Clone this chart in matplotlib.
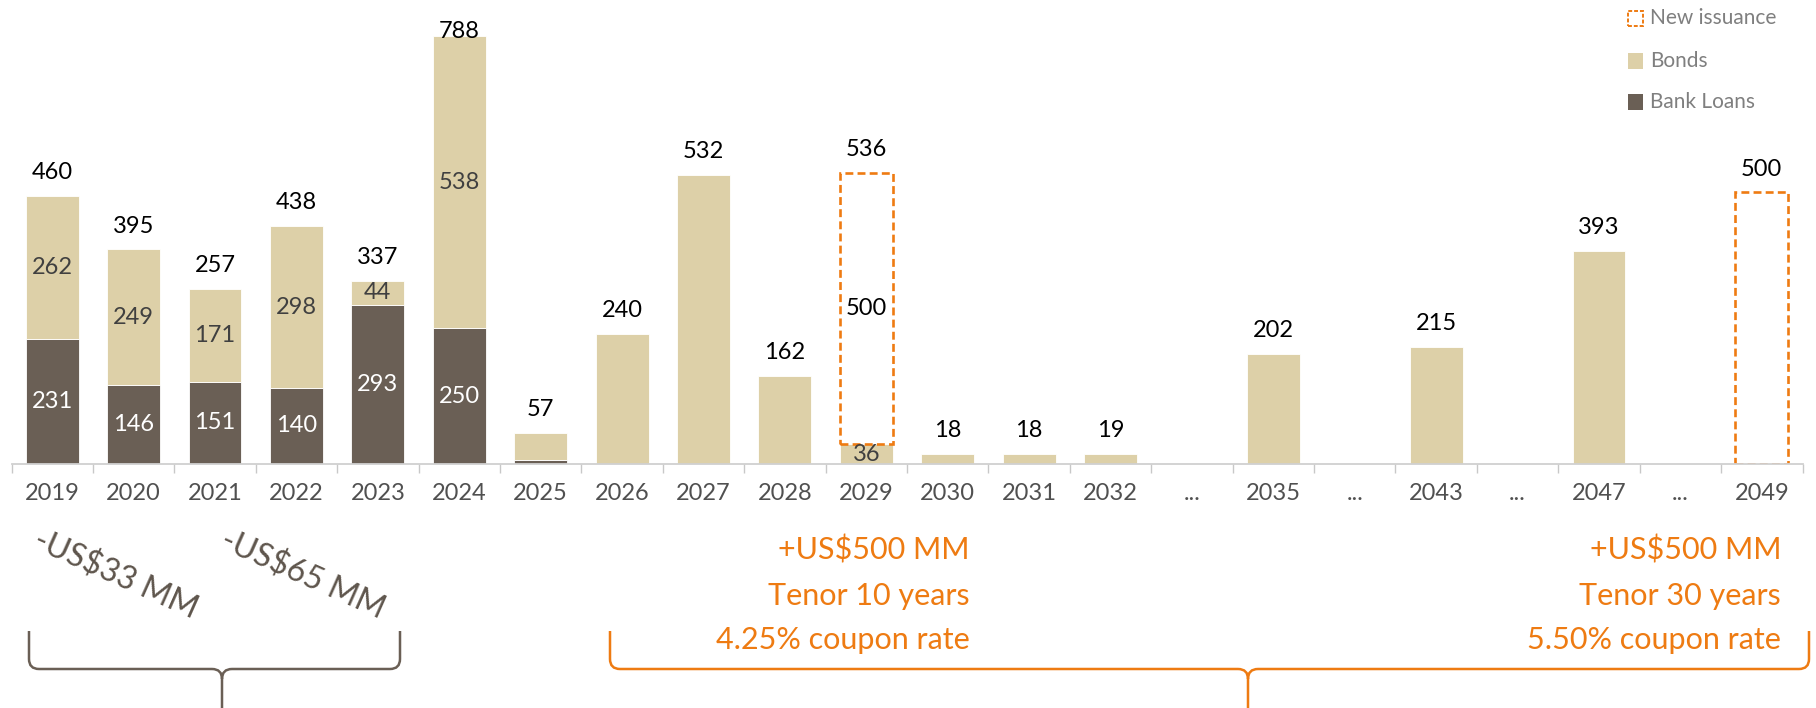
import matplotlib.pyplot as plt
import numpy as np
from matplotlib.patches import Rectangle, PathPatch
from matplotlib.path import Path

plt.rcParams['font.family'] = ['Lato', 'DejaVu Sans']

years = ['2019', '2020', '2021', '2022', '2023', '2024', '2025', '2026', '2027',
         '2028', '2029', '2030', '2031', '2032', '...', '2035', '...', '2043',
         '...', '2047', '...', '2049']
bank_loans = [231, 146, 151, 140, 293, 250, 8, 0, 0, 0, 0, 0, 0, 0,
              0, 0, 0, 0, 0, 0, 0, 0]
bonds = [262, 249, 171, 298, 44, 538, 49, 240, 532, 162, 36, 18, 18, 19,
         0, 202, 0, 215, 0, 393, 0, 0]
new_issuance = [0, 0, 0, 0, 0, 0, 0, 0, 0, 0, 500, 0, 0, 0,
                0, 0, 0, 0, 0, 0, 0, 500]
totals = [460, 395, 257, 438, 337, 788, 57, 240, 532, 162, 536, 18, 18, 19,
          None, 202, None, 215, None, 393, None, 500]

BANK = '#6A5F55'
BOND = '#DDD0A8'
ORANGE = '#EE7B12'
DARK = '#404040'
W, H = 1816, 708

fig = plt.figure(figsize=(W / 100, H / 100), dpi=100)
ax = fig.add_axes([11.5 / W, (H - 464) / H, 1791 / W, 434.6 / H])

x = np.arange(len(years))
bank = np.array(bank_loans)
bond = np.array(bonds)
new = np.array(new_issuance)
width = 0.65

ax.bar(x, bank, width, color=BANK, edgecolor='white', linewidth=0.6)
ax.bar(x, bond, width, bottom=bank, color=BOND, edgecolor='white', linewidth=0.6)
has_new = new > 0
ax.bar(x[has_new], new[has_new], width, bottom=(bank + bond)[has_new],
       facecolor='none', edgecolor=ORANGE, linewidth=1.9,
       linestyle=(0, (3, 1.6)))

ax.set_xlim(-0.5, len(years) - 0.5)
ax.set_ylim(0, 800)

# labels
for i in x:
    top = bank[i] + bond[i] + new[i]
    if top == 0:
        continue
    ax.text(i, min(top + 43, 797), str(totals[i]), ha='center', va='center',
            fontsize=17, color='black')
    if bank[i] > 100:
        ax.text(i, bank[i] / 2, str(bank[i]), ha='center', va='center',
                fontsize=17, color='white')
    if bond[i] > 0 and (bank[i] > 100 or new[i] > 0):
        ax.text(i, bank[i] + bond[i] / 2, str(bond[i]), ha='center', va='center',
                fontsize=17, color=DARK)
    if new[i] > 0 and bond[i] > 0:
        ax.text(i, bank[i] + bond[i] + new[i] / 2, str(new[i]), ha='center',
                va='center', fontsize=17, color='black')

# axis
for s in ['top', 'right', 'left']:
    ax.spines[s].set_visible(False)
ax.spines['bottom'].set_color('#D0D0D0')
ax.spines['bottom'].set_linewidth(1.3)
ax.set_yticks([])
ax.set_xticks(x)
ax.set_xticklabels(years, fontsize=17, color='#505050')
ax.tick_params(axis='x', length=0, pad=14)
ax.set_xticks(np.arange(len(years) + 1) - 0.5, minor=True)
ax.tick_params(axis='x', which='minor', length=6.5, color='#C8C8C8', width=1)
for i, y in enumerate(years):
    if y == '...':
        ax.plot([i - 0.07, i - 0.02], [0, 0], color='white', lw=1.6,
                clip_on=False, solid_capstyle='butt')
        ax.plot([i + 0.02, i + 0.07], [0, 0], color='white', lw=1.6,
                clip_on=False, solid_capstyle='butt')

# legend
legend_items = [('New issuance', 'white', ORANGE, 18.5),
                ('Bonds', BOND, BOND, 61),
                ('Bank Loans', BANK, BANK, 102)]
for name, fc, ec, yy in legend_items:
    dashed = name == 'New issuance'
    fig.patches.append(Rectangle((1628 / W, 1 - (yy + 7.5) / H), 15 / W, 15 / H,
                                 transform=fig.transFigure, facecolor=fc,
                                 edgecolor=ec, lw=1.4 if dashed else 0,
                                 linestyle=(0, (2, 1)) if dashed else '-'))
    fig.text(1650 / W, 1 - yy / H, name, fontsize=15, color='#7F7F7F',
             ha='left', va='center')

# reduction notes
for txt, cx in [('-US$33 MM', 116), ('-US$65 MM', 303)]:
    fig.text(cx / W, 1 - 575 / H, txt, rotation=-24, rotation_mode='anchor',
             ha='center', va='center', fontsize=23, color='#5E554C')

# new issuance notes
for lines, rx in [(['+US$500 MM', 'Tenor 10 years', '4.25% coupon rate'], 970),
                  (['+US$500 MM', 'Tenor 30 years', '5.50% coupon rate'], 1781)]:
    for txt, yy in zip(lines, [550, 596, 640]):
        fig.text(rx / W, 1 - yy / H, txt, ha='right', va='center',
                 fontsize=22, color=ORANGE)


def brace(x0, x1, xm, ytop, yh, ybot, color):
    r = 10
    pts = [(x0, ytop), (x0, yh - r), (x0, yh), (x0 + r, yh), (xm - r, yh),
           (xm, yh), (xm, yh + r), (xm, ybot),
           (x1, ytop), (x1, yh - r), (x1, yh), (x1 - r, yh), (xm + r, yh),
           (xm, yh), (xm, yh + r)]
    codes = [Path.MOVETO, Path.LINETO, Path.CURVE3, Path.CURVE3, Path.LINETO,
             Path.CURVE3, Path.CURVE3, Path.LINETO,
             Path.MOVETO, Path.LINETO, Path.CURVE3, Path.CURVE3, Path.LINETO,
             Path.CURVE3, Path.CURVE3]
    verts = [(px / W, 1 - py / H) for px, py in pts]
    fig.patches.append(PathPatch(Path(verts, codes), transform=fig.transFigure,
                                 facecolor='none', edgecolor=color, lw=1.8))


brace(29, 400, 222, 631, 669, 710, '#6A5F55')
brace(610, 1809, 1248, 631, 669, 710, ORANGE)

fig.savefig('out.png', dpi=100)
